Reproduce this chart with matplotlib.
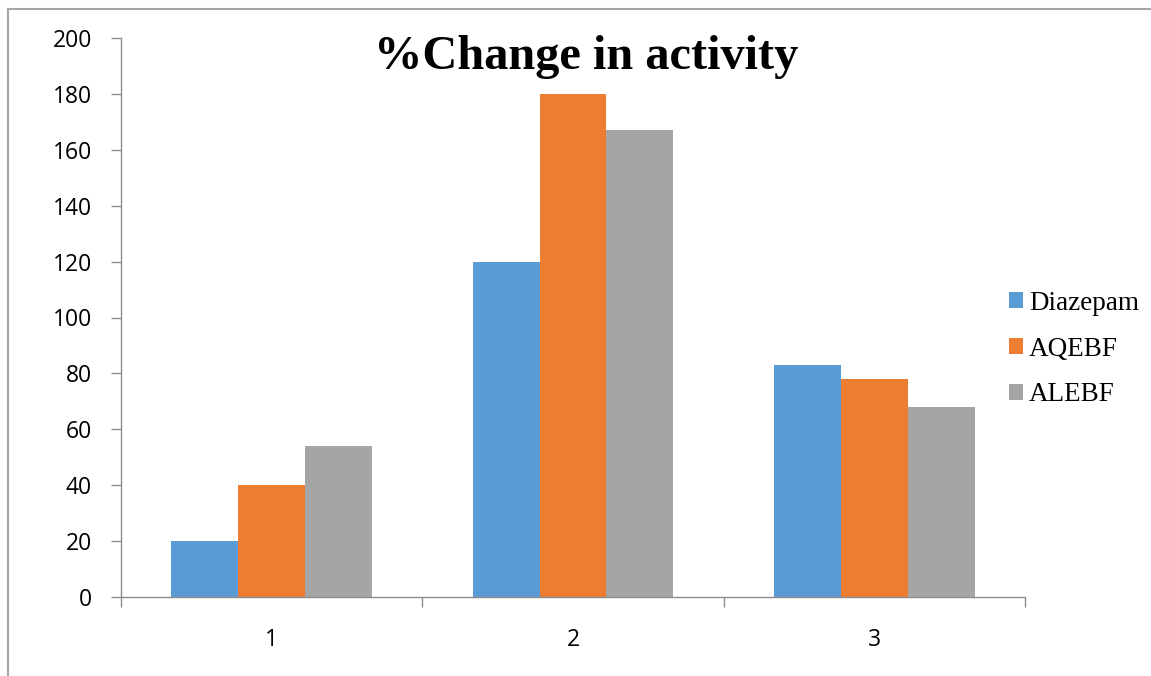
import matplotlib
matplotlib.use("Agg")
import matplotlib.pyplot as plt
from matplotlib.lines import Line2D
import numpy as np

# Data
groups = ["1", "2", "3"]
series_names = ["Diazepam", "AQEBF", "ALEBF"]
diazepam = [20, 120, 83]
aqebf = [40, 180, 78]
alebf = [54, 167, 68]
y_ticks = [0, 20, 40, 60, 80, 100, 120, 140, 160, 180, 200]
title = "%Change in activity"

colors = ["#5B9BD5", "#ED7D31", "#A5A5A5"]
axis_grey = "#8c8c8c"

W, H = 1151, 676
fig = plt.figure(figsize=(W / 100, H / 100), dpi=100)
fig.patch.set_facecolor("white")

ax = fig.add_axes([121 / W, (H - 597) / H, (1025 - 121) / W, (597 - 38) / H])

x = np.arange(1, len(groups) + 1)
bar_w = 0.222
for i, (vals, name, c) in enumerate(zip([diazepam, aqebf, alebf], series_names, colors)):
    ax.bar(x + (i - 1) * bar_w, vals, width=bar_w, color=c, label=name, linewidth=0)

ax.set_xlim(0.5, 3.5)
ax.set_ylim(0, 200)
ax.set_yticks(y_ticks)
ax.set_xticks(x)
ax.set_xticklabels(groups)
ax.set_xticks(np.arange(0.5, 3.6, 1.0), minor=True)

for side in ["top", "right"]:
    ax.spines[side].set_visible(False)
for side in ["left", "bottom"]:
    ax.spines[side].set_color(axis_grey)
    ax.spines[side].set_linewidth(1.0)

ax.tick_params(axis="y", direction="out", length=7, width=1, color=axis_grey, pad=14,
               labelsize=16.5)
ax.tick_params(axis="x", which="major", length=0, pad=22, labelsize=16.5)
ax.tick_params(axis="x", which="minor", direction="out", length=7, width=1, color=axis_grey)
for lab in ax.get_xticklabels() + ax.get_yticklabels():
    lab.set_fontfamily("Open Sans")
    lab.set_color("black")

# Title
fig.text(586 / W, (H - 69) / H, title, ha="center", va="baseline",
         fontfamily="Liberation Serif", fontweight="bold", fontsize=34.8)

# Legend
leg = ax.legend(loc="center left", bbox_to_anchor=(1009 / W, (H - 349) / H),
                bbox_transform=fig.transFigure, frameon=False,
                prop=dict(family="Liberation Serif", size=19.5),
                handlelength=0.52, handleheight=0.52, handletextpad=0.22,
                labelspacing=0.77, borderpad=0, borderaxespad=0)

# Outer frame lines (top and left)
frame_grey = "#a6a6a6"
fig.add_artist(Line2D([8 / W, 1], [1 - 9 / H, 1 - 9 / H], transform=fig.transFigure,
                      color=frame_grey, linewidth=1.5))
fig.add_artist(Line2D([8 / W, 8 / W], [0, 1 - 9 / H], transform=fig.transFigure,
                      color=frame_grey, linewidth=1.5))

fig.savefig("out.png", dpi=100, facecolor="white")
